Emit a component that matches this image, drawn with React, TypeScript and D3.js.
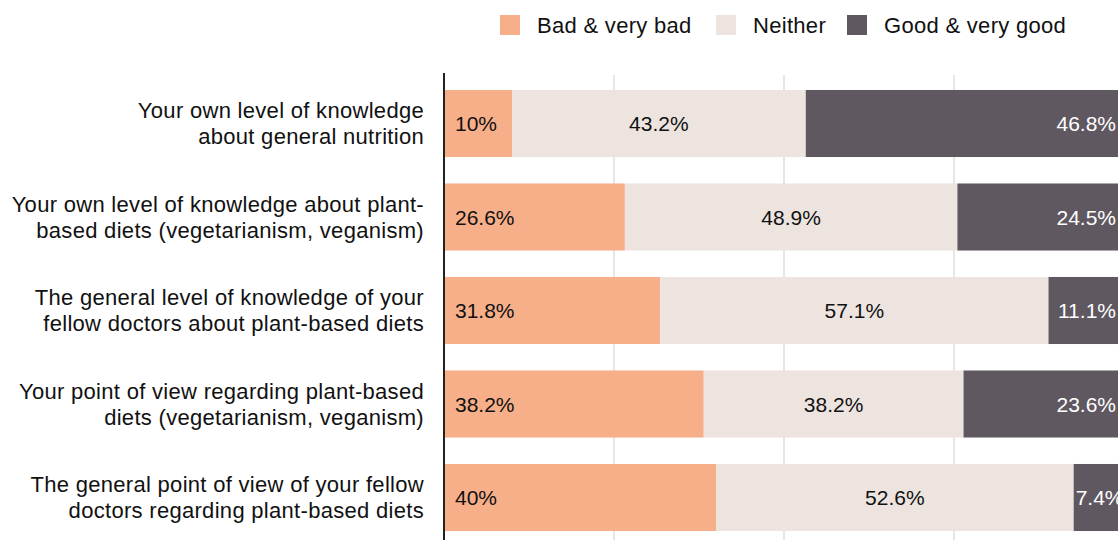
import React from "react";
import * as d3 from "d3";

const categories: string[][] = [
  ["Your own level of knowledge", "about general nutrition"],
  ["Your own level of knowledge about plant-", "based diets (vegetarianism, veganism)"],
  ["The general level of knowledge of your", "fellow doctors about plant-based diets"],
  ["Your point of view regarding plant-based", "diets (vegetarianism, veganism)"],
  ["The general point of view of your fellow", "doctors regarding plant-based diets"],
];
const seriesNames = ["Bad & very bad", "Neither", "Good & very good"];
const bad = [10, 26.6, 31.8, 38.2, 40];
const neither = [43.2, 48.9, 57.1, 38.2, 52.6];
const good = [46.8, 24.5, 11.1, 23.6, 7.4];
const gridTicks = [25, 50, 75];

const colors = ["#F7AF8A", "#EDE4E0", "#5F5861"];
const textColors = ["#111", "#111", "#fff"];
const FONT = "'Liberation Sans', Arial, Helvetica, sans-serif";

export default function App() {
  const W = 1118, H = 540;
  const x = d3.scaleLinear().domain([0, 100]).range([444, 1124]);
  const ids = categories.map((_, i) => String(i));
  const y = d3.scaleBand<string>().domain(ids).range([76.75, 544.25]).paddingInner(0.283).paddingOuter(0.1415);
  const rows = ids.map((id, i) => ({ id, bad: bad[i], neither: neither[i], good: good[i] }));
  const keys = ["bad", "neither", "good"];
  const values = [bad, neither, good];
  const stack = d3.stack<any>().keys(keys);
  const layers = stack(rows);

  const legendX = [500, 716, 847];

  return (
    <svg width={W} height={H} style={{ position: "absolute", left: 0, top: 0, background: "#fff" }} fontFamily={FONT}>
      {/* legend */}
      {seriesNames.map((n, i) => (
        <g key={n}>
          <rect x={legendX[i]} y={15} width={20} height={20} fill={colors[i]} />
          <text x={legendX[i] + 37} y={25} dominantBaseline="central" fontSize={22} letterSpacing={0.3} fill="#111">{n}</text>
        </g>
      ))}
      {/* grid */}
      {gridTicks.map((t) => (
        <line key={t} x1={x(t)} x2={x(t)} y1={75} y2={H} stroke="#d6d6d6" strokeWidth={1.2} />
      ))}
      {/* bars */}
      {layers.map((layer, k) => (
        <g key={k}>
          {layer.map((d, i) => {
            const x0 = x(d[0]), x1 = x(d[1]);
            const yy = y(ids[i])!, bh = y.bandwidth();
            const label = `${values[k][i]}%`;
            let tx = (x0 + x1) / 2, anchor: any = "middle";
            if (k === 0) { tx = x0 + 11; anchor = "start"; }
            if (k === 2) { tx = Math.min(x1, W) - 2; anchor = "end"; }
            if (k === 2 && x1 - x0 < 60) { tx = x0 + 2; anchor = "start"; }
            return (
              <g key={i}>
                <rect x={x0} y={yy} width={x1 - x0} height={bh} fill={colors[k]} />
                <text x={tx} y={yy + bh / 2} dominantBaseline="central" textAnchor={anchor} fontSize={21} fill={textColors[k]}>{label}</text>
              </g>
            );
          })}
        </g>
      ))}
      {/* axis line */}
      <line x1={x(0)} x2={x(0)} y1={73} y2={H} stroke="#222" strokeWidth={2} />
      {/* category labels */}
      {categories.map((lines, i) => {
        const cy = y(ids[i])! + y.bandwidth() / 2;
        return (
          <text key={i} x={424} textAnchor="end" fontSize={22} letterSpacing={0.3} fill="#111">
            {lines.map((l, j) => (
              <tspan key={j} x={424} y={cy + (j === 0 ? -13 : 13)} dominantBaseline="central">{l}</tspan>
            ))}
          </text>
        );
      })}
    </svg>
  );
}
